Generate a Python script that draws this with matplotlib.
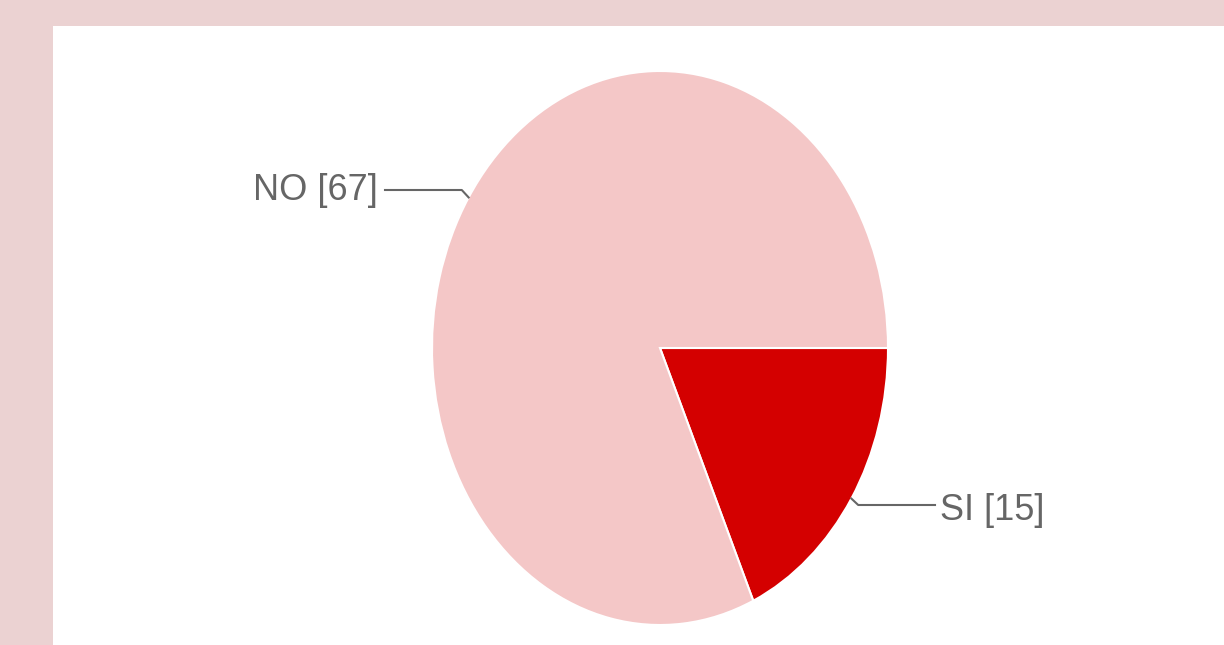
import numpy as np
import matplotlib.pyplot as plt

labels = ['SI', 'NO']
values = [15, 67]
colors = ['#d40000', '#f4c7c7']

W, H = 1224, 645
fig = plt.figure(figsize=(W / 100, H / 100), dpi=100)
fig.patch.set_facecolor('#ebd2d2')

# white panel
panel = fig.add_axes([53 / W, 0, 1 - 53 / W, (H - 26) / H])
panel.set_facecolor('white')
panel.set_xticks([])
panel.set_yticks([])
for s in panel.spines.values():
    s.set_visible(False)

# pie drawn stretched (ellipse) like the reference
cx, cy, rx, ry = 660, 348, 228, 277
ax = fig.add_axes([(cx - rx) / W, (H - cy - ry) / H, 2 * rx / W, 2 * ry / H])
ax.set_facecolor('none')
ax.axis('off')
wedges, _ = ax.pie(values, colors=colors, startangle=0, counterclock=False,
                   radius=1, wedgeprops=dict(edgecolor='white', linewidth=1.5))
ax.set_aspect('auto')
ax.set_xlim(-1, 1)
ax.set_ylim(-1, 1)

def px2ax(px, py):
    return (px - cx) / rx, (cy - py) / ry

font = dict(family=['Liberation Sans', 'DejaVu Sans'], size=26, color='#666666')
for w, lab, v in zip(wedges, labels, values):
    ang = np.deg2rad((w.theta1 + w.theta2) / 2)
    ex, ey = np.cos(ang), np.sin(ang)
    if ex < 0:
        hx, hy = px2ax(385, 190)
        ax.plot([ex, ex - 0.03, hx], [ey, hy, hy], color='#666666', lw=1.5, clip_on=False)
        ax.text(hx - 0.03, hy, f'{lab} [{v}]', ha='right', va='center', **font)
    else:
        hx, hy = px2ax(935, 505)
        ax.plot([ex, ex + 0.03, hx], [ey, hy, hy], color='#666666', lw=1.5, clip_on=False)
        ax.text(hx + 0.02, hy - 0.02, f'{lab} [{v}]', ha='left', va='center', **font)

fig.savefig('out.png', dpi=100, facecolor=fig.get_facecolor())
